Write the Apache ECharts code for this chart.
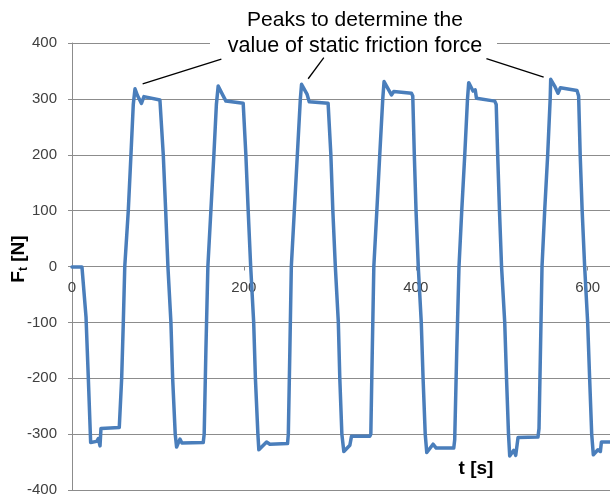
<!DOCTYPE html>
<html>
<head>
<meta charset="utf-8">
<script src="https://cdn.jsdelivr.net/npm/echarts@6/dist/echarts.min.js"></script>
<style>
html,body{margin:0;padding:0;background:#fff;}
#chart{width:610px;height:497px;}
</style>
</head>
<body>
<div id="chart"></div>
<script>
// time [s]
var timeS = [0,11.6,12.8,13.7,16.3,19.0,21.7,28.7,30.6,32.6,33.7,55.0,57.8,59.7,61.4,65.5,68.6,71.3,73.3,76.2,80.8,83.7,102.3,104.3,
106.2,109.0,111.6,115.1,117.1,120.1,121.7,125.6,127.9,152.7,153.8,155.8,158.1,161.6,165.1,168.0,170.1,175.0,179.1,199.2,200.6,
202.3,205.0,207.9,211.4,213.4,216.3,217.4,226.4,230.2,250.8,251.7,253.5,255.2,258.7,262.2,265.7,267.1,273.6,276.0,298.0,299.4,
301.2,303.5,306.4,309.9,311.6,314.0,316.3,323.3,325.2,346.5,347.7,349.4,351.2,354.7,358.1,361.6,363.1,371.7,374.4,395.0,396.5,
398.3,400.3,402.9,406.4,408.5,411.0,412.8,420.1,423.8,444.2,445.3,447.7,450.3,453.5,457.0,460.2,461.6,466.6,469.2,470.6,491.9,493.6,
495.3,497.4,499.8,503.5,505.6,507.9,509.3,514.0,516.3,519.0,542.2,543.4,545.1,546.9,550.0,553.5,556.4,557.0,561.6,565.5,568.3,587.6,589.5,
591.3,593.6,596.5,600.0,602.3,604.7,606.6,612.0,614.8,616.0,626];
// friction force Ft [N]
var forceN = [-1,-1,2,0,-90,-200,-315,-313,-308,-321,-290,-288,-200,-100,0,100,200,290,318,306,292,304,298,296,
200,100,0,-100,-200,-300,-323,-309,-316,-315,-300,-150,0,100,200,290,323,308,296,292,290,
200,100,0,-100,-200,-300,-328,-314,-318,-317,-300,-150,0,100,200,300,326,308,295,292,290,
200,100,0,-100,-200,-300,-331,-320,-304,-304,-300,-150,0,100,200,300,331,307,313,310,305,
200,100,0,-100,-200,-300,-333,-318,-325,-325,-310,-150,0,100,200,300,329,314,316,301,296,290,
200,100,0,-100,-200,-300,-339,-329,-338,-306,-305,-290,-150,0,100,200,300,335,323,310,320,315,305,
200,100,0,-100,-200,-300,-337,-328,-331,-314,-314];
var xTicks = [0, 200, 400, 600];
var yTicks = [-400, -300, -200, -100, 0, 100, 200, 300, 400];
// annotation pointer lines (data coordinates): [t1, F1, t2, F2]
var pointerLines = [[82.2, 327, 173.8, 371], [274.8, 336, 293, 374], [482.2, 372, 548.8, 339]];
var noteLines = ['Peaks to determine the', 'value of static friction force'];

var FONT = 'Liberation Sans';
var GRID_TOP = 43, GRID_BOTTOM = 7, H = 497;
var data = timeS.map(function (t, i) { return [t, forceN[i]]; });
var chart = echarts.init(document.getElementById('chart'));
var gridColor = '#8c8c8c';
// place the x axis on the F = 0 line
var plotH = H - GRID_TOP - GRID_BOTTOM;
var yMin = yTicks[0], yMax = yTicks[yTicks.length - 1];
var zeroFromBottom = plotH * (0 - yMin) / (yMax - yMin);
chart.setOption({
  animation: false,
  backgroundColor: '#fff',
  grid: { left: 72, right: 0, top: GRID_TOP, bottom: GRID_BOTTOM, outerBoundsMode: 'none', containLabel: false },
  xAxis: {
    type: 'value', min: xTicks[0], max: 626, interval: xTicks[1] - xTicks[0],
    position: 'bottom', offset: -zeroFromBottom,
    axisLine: { onZero: false, lineStyle: { color: gridColor, width: 1 } },
    axisTick: { show: true, length: 4, lineStyle: { color: gridColor } },
    axisLabel: { margin: 14, color: '#404040', fontSize: 15, fontFamily: FONT, showMaxLabel: false },
    splitLine: { show: false }
  },
  yAxis: {
    type: 'value', min: yMin, max: yMax, interval: yTicks[1] - yTicks[0],
    axisLine: { show: true, lineStyle: { color: gridColor, width: 1 } },
    axisTick: { show: true, length: 4, lineStyle: { color: gridColor } },
    axisLabel: { margin: 15, color: '#404040', fontSize: 15, fontFamily: FONT },
    splitLine: { show: true, lineStyle: { color: gridColor, width: 1 } }
  },
  series: [{
    type: 'line', data: data, showSymbol: false, symbol: 'none', clip: true,
    lineStyle: { width: 3.5, color: '#4a7ebb', cap: 'round', join: 'round' },
    emphasis: { disabled: true },
    markLine: {
      silent: true, symbol: 'none', animation: false,
      label: { show: false },
      emphasis: { disabled: true },
      lineStyle: { color: '#000', width: 1.3, type: 'solid' },
      data: pointerLines.map(function (p) { return [{ coord: [p[0], p[1]] }, { coord: [p[2], p[3]] }]; })
    }
  }],
  graphic: [
    { type: 'rect', shape: { x: 210, y: 0, width: 287, height: 56 }, style: { fill: '#fff' }, z: 10 },
    { type: 'text', x: 355, y: 20, z: 11, style: { text: noteLines[0], font: '21px "' + FONT + '"', fill: '#000', align: 'center', verticalAlign: 'middle' } },
    { type: 'text', x: 355, y: 46.5, z: 11, style: { text: noteLines[1], font: '21.5px "' + FONT + '"', fill: '#000', align: 'center', verticalAlign: 'middle' } },
    { type: 'text', x: 476, y: 469, z: 11, style: { text: 't [s]', font: 'bold 19px "' + FONT + '"', fill: '#000', align: 'center', verticalAlign: 'middle' } },
    { type: 'text', x: 19, y: 259, z: 11, rotation: Math.PI / 2,
      style: { text: '{a|F}{b|t}{a| [N]}', fill: '#000', align: 'center', verticalAlign: 'middle',
        rich: {
          a: { fontSize: 19, fontWeight: 'bold', fontFamily: FONT, lineHeight: 22, verticalAlign: 'middle' },
          b: { fontSize: 12, fontWeight: 'bold', fontFamily: FONT, lineHeight: 22, verticalAlign: 'bottom' }
        } } }
  ]
});
</script>
</body>
</html>
